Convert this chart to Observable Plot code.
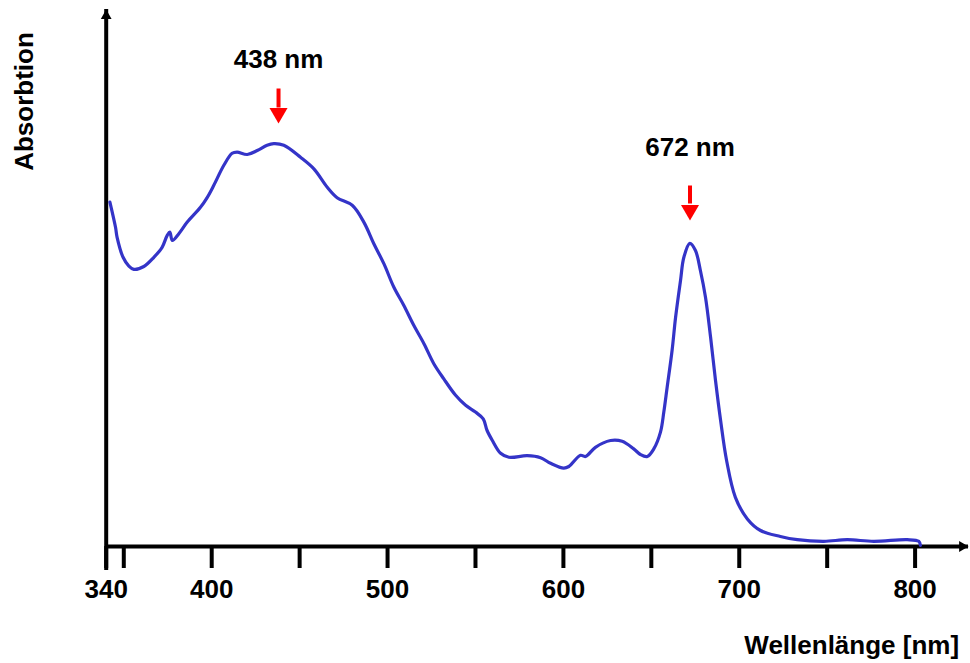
<!DOCTYPE html>
<html>
<head>
<meta charset="utf-8">
<script src="https://cdn.jsdelivr.net/npm/d3@7"></script>
<script src="https://cdn.jsdelivr.net/npm/@observablehq/plot@0.6"></script>
<style>
  body { margin: 0; background: #fff; }
</style>
</head>
<body>
<div id="chart"></div>
<script>
// Absorption spectrum (relative absorbance vs. wavelength in nm)
const wavelength = [342.1, 345.3, 346.2, 349.6, 352.9, 355.7, 361.4, 367.1, 371.8, 374.7,
  376.2, 377.6, 381.3, 386.1, 393.6, 397.5, 401.2, 406.9, 411.6, 414.4,
  420.2, 425.9, 431.5, 435.3, 441.0, 450.5, 458.1, 465.7, 471.3, 479.9,
  486.5, 492.2, 497.9, 503.6, 509.2, 514.9, 520.7, 526.3, 532.0, 538.7,
  544.4, 550.0, 554.4, 556.6, 559.6, 564.3, 569.0, 579.4, 587.0, 592.7,
  600.2, 603.1, 609.7, 612.6, 618.2, 626.8, 633.4, 640.0, 643.8, 647.7,
  651.4, 655.2, 657.1, 659.0, 661.8, 663.8, 666.6, 668.5, 671.9, 675.1,
  677.9, 680.8, 683.7, 686.5, 689.4, 692.8, 697.8, 704.6, 712.1, 723.4,
  733.0, 748.1, 761.4, 776.5, 795.5, 802.1, 803.0];
const absorbance = [0.861, 0.798, 0.773, 0.723, 0.701, 0.693, 0.700, 0.723, 0.748, 0.778,
  0.786, 0.765, 0.782, 0.811, 0.848, 0.873, 0.903, 0.953, 0.983, 0.986,
  0.980, 0.990, 1.003, 1.007, 1.003, 0.973, 0.944, 0.898, 0.872, 0.853,
  0.811, 0.757, 0.707, 0.648, 0.603, 0.553, 0.507, 0.457, 0.419, 0.378,
  0.353, 0.336, 0.319, 0.290, 0.265, 0.233, 0.223, 0.227, 0.222, 0.208,
  0.196, 0.200, 0.228, 0.225, 0.248, 0.265, 0.263, 0.244, 0.230, 0.225,
  0.244, 0.286, 0.336, 0.398, 0.490, 0.573, 0.665, 0.723, 0.758, 0.740,
  0.690, 0.623, 0.523, 0.415, 0.315, 0.215, 0.123, 0.069, 0.040, 0.025,
  0.017, 0.013, 0.017, 0.013, 0.017, 0.013, 0.003];

// Axis ticks and which of them carry a label
const tickValues = [340, 350, 400, 450, 500, 550, 600, 650, 700, 750, 800];
const labelledTicks = [340, 400, 500, 600, 700, 800];

// Absorption maxima, annotated with red arrows
const peakWavelengths = [438, 672];
const peakLabels = ["438 nm", "672 nm"];
const labelLevel = [1.197, 0.9775];
const arrowTop = [1.145, 0.9025];
const arrowBase = [1.0975, 0.8575];
const arrowTip = [1.0575, 0.815];

// Extents of the arrowed axis lines (data units)
const xAxisEnd = 830.4;
const yAxisEnd = 1.3425;
const yAxisBelow = -0.06;

const spectrum = wavelength.map((nm, i) => ({nm, a: absorbance[i]}));
const peaks = peakWavelengths.map((nm, i) => ({
  nm, label: peakLabels[i], level: labelLevel[i],
  top: arrowTop[i], base: arrowBase[i], tip: arrowTip[i]
}));

const font = "'Liberation Sans', Arial, Helvetica, sans-serif";
const fs = 26;

const chart = Plot.plot({
  width: 970,
  height: 663,
  marginLeft: 105.7,
  marginRight: 55.4,
  marginTop: 26,
  marginBottom: 117,
  style: {fontFamily: font, background: "white", color: "black", fontSize: fs + "px", fontWeight: "bold"},
  x: {domain: [340, 800]},
  y: {domain: [0, 1.3], axis: null},
  marks: [
    // axis lines
    Plot.ruleY([0], {x1: 340, x2: xAxisEnd, stroke: "black", strokeWidth: 4}),
    Plot.ruleX([340], {y1: yAxisBelow, y2: yAxisEnd, stroke: "black", strokeWidth: 4}),
    Plot.dot([{x: xAxisEnd, y: 0}], {x: "x", y: "y", symbol: "triangle", rotate: 90, r: 4, fill: "black", dx: -6.3}),
    Plot.dot([{x: 340, y: yAxisEnd}], {x: "x", y: "y", symbol: "triangle", r: 4, fill: "black", dy: 6.3}),
    // ticks and tick labels
    Plot.axisX(tickValues, {
      tickSize: 22, tickPadding: 11, strokeWidth: 4,
      tickFormat: d => labelledTicks.includes(d) ? String(d) : "",
      fontSize: fs, fontWeight: "bold", fill: "black"
    }),
    // spectrum
    Plot.line(spectrum, {x: "nm", y: "a", stroke: "#3434c8", strokeWidth: 3.2, curve: "catmull-rom"}),
    // peak arrows
    Plot.link(peaks, {x1: "nm", x2: "nm", y1: "top", y2: "base", stroke: "#ff0000", strokeWidth: 4}),
    Plot.dot(peaks, {x: "nm", y: "tip", symbol: "triangle", rotate: 180, r: 6.7, fill: "#ff0000", dy: -10.4}),
    Plot.text(peaks, {x: "nm", y: "level", text: "label", lineAnchor: "bottom", fontSize: fs, fontWeight: "bold", fill: "black"}),
    // axis titles
    Plot.text(["Wellenlänge [nm]"], {frameAnchor: "bottom-right", textAnchor: "end", lineAnchor: "bottom", dx: 44, dy: 107, fontSize: fs, fontWeight: "bold", fill: "black"}),
    Plot.text(["Absorbtion"], {frameAnchor: "top-left", rotate: -90, textAnchor: "middle", lineAnchor: "bottom", dx: -73.7, dy: 75, fontSize: fs, fontWeight: "bold", fill: "black"})
  ]
});

document.getElementById("chart").appendChild(chart);
</script>
</body>
</html>
